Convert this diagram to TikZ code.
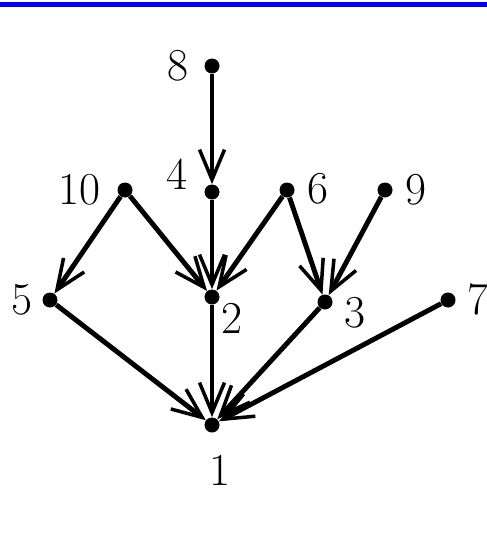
\documentclass[tikz,border=0pt]{standalone}
\usepackage{amsmath, amssymb}
\usetikzlibrary{arrows.meta}

\begin{document}
\begin{tikzpicture}[x=0.2mm, y=-0.2mm, dot/.style={circle, fill=black, inner sep=0pt, minimum size=3mm}, lbl/.style={font=\fontsize{26}{30}\selectfont, inner sep=0pt}, link/.style={-{Straight Barb[length=6mm, width=5mm, line width=2pt]}, line width=2.8pt}]
						\useasboundingbox (0,0) rectangle (487,539);
						\fill[blue] (0,2) rectangle (487,7);
						\node[dot] (n8) at (212,66) {};
						\node[dot] (n4) at (212,192) {};
						\node[dot] (n10) at (125,190) {};
						\node[dot] (n6) at (287,190) {};
						\node[dot] (n9) at (385,190) {};
						\node[dot] (n5) at (50,300) {};
						\node[dot] (n2) at (212,297) {};
						\node[dot] (n3) at (325,302) {};
						\node[dot] (n7) at (448,300) {};
						\node[dot] (n1) at (212,425) {};
						\node[lbl] (l8) at (178,66) {8};
						\node[lbl] (l4) at (177,174) {4};
						\node[lbl] (l10) at (79,190) {10};
						\node[lbl] (l6) at (318,189) {6};
						\node[lbl] (l9) at (416,190) {9};
						\node[lbl] (l5) at (22,300) {5};
						\node[lbl] (l2) at (232,318) {2};
						\node[lbl] (l3) at (355,313) {3};
						\node[lbl] (l7) at (478,299) {7};
						\node[lbl] (l1) at (220,470) {1};
						\draw[link] (n8) -- (n4);
						\draw[link] (n4) -- (n2);
						\draw[link] (n10) -- (n5);
						\draw[link] (n10) -- (n2);
						\draw[link] (n6) -- (n2);
						\draw[link] (n6) -- (n3);
						\draw[link] (n9) -- (n3);
						\draw[link] (n5) -- (n1);
						\draw[link] (n2) -- (n1);
						\draw[link] (n3) -- (n1);
						\draw[link] (n7) -- (n1);
					\end{tikzpicture}
\end{document}
